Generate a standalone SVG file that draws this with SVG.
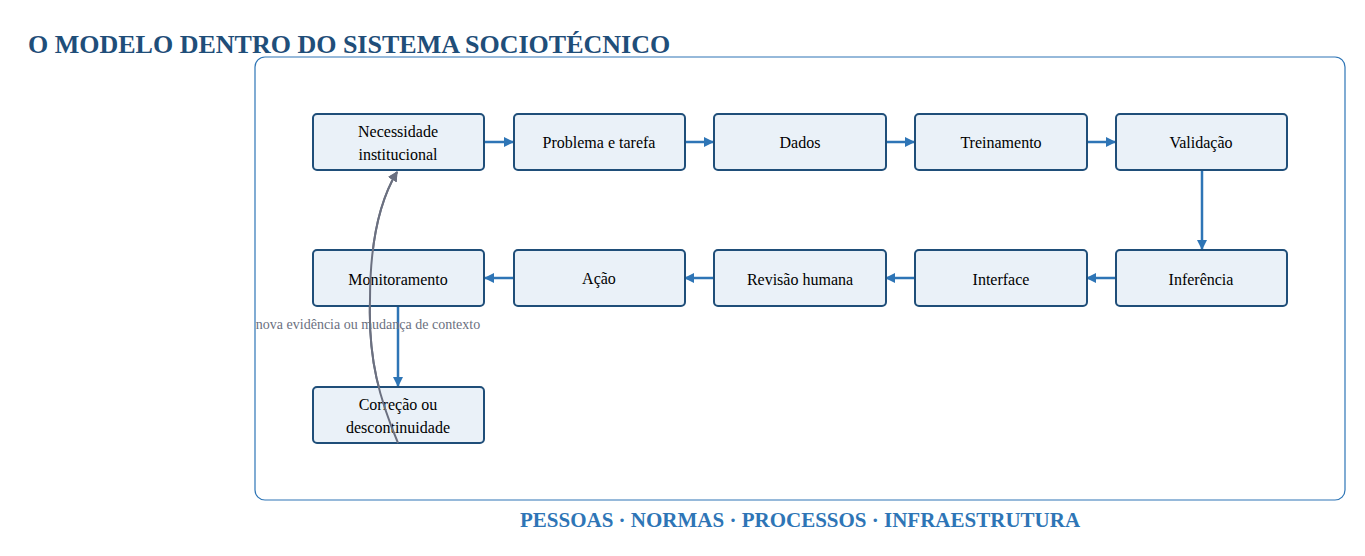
<svg xmlns="http://www.w3.org/2000/svg" width="1365" height="556" viewBox="0 0 1365 556">
<style>
.n rect{fill:#eaf1f8;stroke:#1f4e79;stroke-width:2}
.n text{font-family:"Liberation Serif",serif;font-size:16px;fill:#000;text-anchor:middle}
.e{stroke:#2e75b6;stroke-width:2.5;fill:none;marker-end:url(#a)}
</style>
<defs>
<marker id="a" markerWidth="10" markerHeight="10" refX="9" refY="5" orient="auto" markerUnits="userSpaceOnUse"><path d="M0,0L10,5L0,10z" fill="#2e75b6"/></marker>
<marker id="g" markerWidth="10" markerHeight="10" refX="9" refY="5" orient="auto" markerUnits="userSpaceOnUse"><path d="M0,0L10,5L0,10z" fill="#6b7080"/></marker>
</defs>
<rect x="0" y="0" width="1365" height="556" fill="#fff"/>
<text x="28" y="53" font-family="Liberation Serif,serif" font-size="26" font-weight="bold" fill="#1f4e79">O MODELO DENTRO DO SISTEMA SOCIOTÉCNICO</text>
<rect x="255" y="57" width="1090" height="443" rx="10" fill="none" stroke="#2e75b6" stroke-width="1.2"/>
<text x="800" y="527" font-family="Liberation Serif,serif" font-size="21" font-weight="bold" fill="#2e75b6" text-anchor="middle">PESSOAS · NORMAS · PROCESSOS · INFRAESTRUTURA</text>
<g id="edges">
<path class="e" d="M484,142H513"/>
<path class="e" d="M685,142H713"/>
<path class="e" d="M886,142H914"/>
<path class="e" d="M1087,142H1115"/>
<path class="e" d="M1202,170V249"/>
<path class="e" d="M1116,278H1087"/>
<path class="e" d="M915,278H886"/>
<path class="e" d="M714,278H685"/>
<path class="e" d="M514,278H485"/>
<path class="e" d="M398,306V386"/>
<path d="M398,443C380,400 368,360 370,300C370,240 380,200 397,172" stroke="#6b7080" stroke-width="2" fill="none" marker-end="url(#g)"/>
<text x="368" y="329" font-family="Liberation Serif,serif" font-size="14" fill="#6b7080" text-anchor="middle">nova evidência ou mudança de contexto</text>
</g>
<g id="n1" class="n"><rect x="313" y="114" width="171" height="56" rx="4"/><text x="398" y="137">Necessidade</text><text x="398" y="160">institucional</text></g>
<g id="n2" class="n"><rect x="514" y="114" width="171" height="56" rx="4"/><text x="599" y="148">Problema e tarefa</text></g>
<g id="n3" class="n"><rect x="714" y="114" width="172" height="56" rx="4"/><text x="800" y="148">Dados</text></g>
<g id="n4" class="n"><rect x="915" y="114" width="172" height="56" rx="4"/><text x="1001" y="148">Treinamento</text></g>
<g id="n5" class="n"><rect x="1116" y="114" width="171" height="56" rx="4"/><text x="1201" y="148">Validação</text></g>
<g id="n6" class="n"><rect x="1116" y="250" width="171" height="56" rx="4"/><text x="1201" y="285">Inferência</text></g>
<g id="n7" class="n"><rect x="915" y="250" width="172" height="56" rx="4"/><text x="1001" y="285">Interface</text></g>
<g id="n8" class="n"><rect x="714" y="250" width="172" height="56" rx="4"/><text x="800" y="285">Revisão humana</text></g>
<g id="n9" class="n"><rect x="514" y="250" width="171" height="56" rx="4"/><text x="599" y="284">Ação</text></g>
<g id="n10" class="n"><rect x="313" y="250" width="171" height="56" rx="4"/><text x="398" y="285">Monitoramento</text></g>
<g id="n11" class="n"><rect x="313" y="387" width="171" height="56" rx="4"/><text x="398" y="410">Correção ou</text><text x="398" y="433">descontinuidade</text></g>
<path d="M398,443C380,400 368,360 370,300C370,240 380,200 397,172" stroke="#6b7080" stroke-width="2" fill="none" marker-end="url(#g)"/>
</svg>
